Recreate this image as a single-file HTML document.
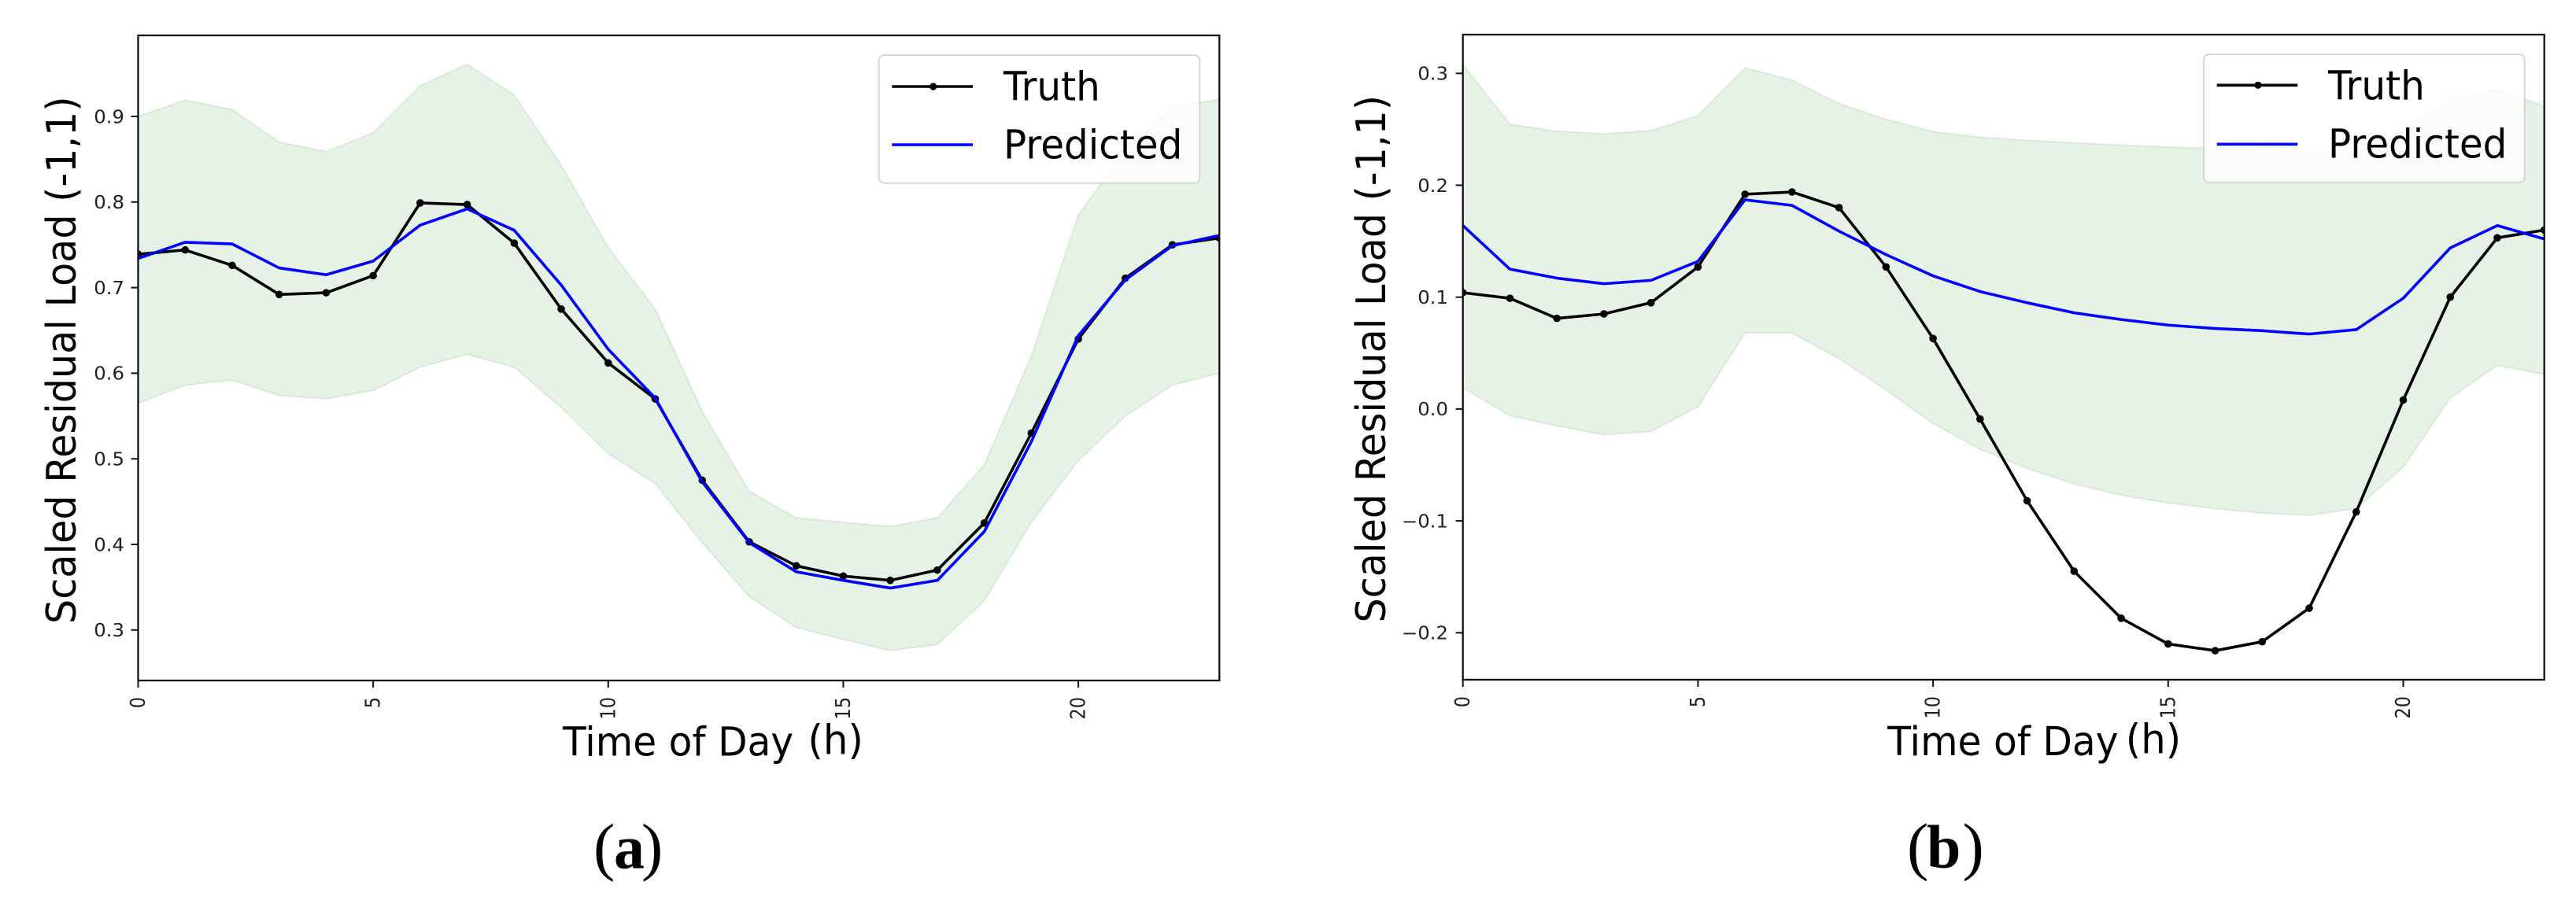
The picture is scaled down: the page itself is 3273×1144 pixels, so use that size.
<!DOCTYPE html>
<html lang="en">
<head>
<meta charset="utf-8">
<title>Scaled Residual Load: Truth vs Predicted</title>
<style>
html,body{margin:0;padding:0;background:#fff;}
svg{display:block;}
text{font-family:"DejaVu Sans","Liberation Sans",sans-serif;}
.cap{font-family:"Liberation Serif",serif;fill:#000;}
</style>
</head>
<body>
<svg id="fig" xmlns="http://www.w3.org/2000/svg" width="3273" height="1144" viewBox="0 0 3273 1144">
  <defs>
    <clipPath id="clipA"><rect x="175.5" y="45" width="1373.8" height="820"/></clipPath>
    <clipPath id="clipB"><rect x="1858.7" y="44" width="1374" height="820"/></clipPath>
  </defs>
  <rect width="3273" height="1144" fill="#fff"/>
  <g id="panelA"></g>
  <g id="panelB"></g>

  <!-- panel a static labels -->
  <text font-size="52" fill="#000" transform="translate(96,793) rotate(-90) scale(0.946,1)">Scaled Residual Load (-1,1)</text>
  <text font-size="51" fill="#000" transform="translate(715,960.7) scale(0.955,1)">Time of Day</text>
  <text font-size="52" fill="#000" transform="translate(1026.4,958.3) scale(0.96,1)">(h)</text>
  <g>
    <rect x="1116.7" y="70" width="407.6" height="162.7" rx="7" ry="7" fill="#fff" fill-opacity="0.8" stroke="#ccc" stroke-opacity="0.8" stroke-width="2"/>
    <line x1="1133.3" y1="110" x2="1236" y2="110" stroke="#000" stroke-width="3.6"/>
    <circle cx="1185.7" cy="110" r="4.6" fill="#000"/>
    <line x1="1133.3" y1="184" x2="1236" y2="184" stroke="#0000ff" stroke-width="3.6"/>
    <text font-size="51" fill="#000" transform="translate(1275,127.3) scale(0.95,1)">Truth</text>
    <text font-size="51" fill="#000" transform="translate(1275,201.3) scale(0.95,1)">Predicted</text>
  </g>
  <g>
    <text class="cap" font-size="82" x="754" y="1103.5">(</text>
    <text class="cap" font-size="78" font-weight="700" x="780" y="1103.5">a</text>
    <text class="cap" font-size="82" x="815" y="1103.5">)</text>
  </g>

  <!-- panel b static labels -->
  <text font-size="52" fill="#000" transform="translate(1760,791.5) rotate(-90) scale(0.946,1)">Scaled Residual Load (-1,1)</text>
  <text font-size="51" fill="#000" transform="translate(2398.3,960) scale(0.955,1)">Time of Day</text>
  <text font-size="52" fill="#000" transform="translate(2700.7,957.3) scale(0.96,1)">(h)</text>
  <g>
    <rect x="2800" y="69" width="407.7" height="162.7" rx="7" ry="7" fill="#fff" fill-opacity="0.8" stroke="#ccc" stroke-opacity="0.8" stroke-width="2"/>
    <line x1="2816.7" y1="108.3" x2="2919.3" y2="108.3" stroke="#000" stroke-width="3.6"/>
    <circle cx="2869" cy="108.3" r="4.6" fill="#000"/>
    <line x1="2816.7" y1="183.3" x2="2919.3" y2="183.3" stroke="#0000ff" stroke-width="3.6"/>
    <text font-size="51" fill="#000" transform="translate(2958,126.7) scale(0.95,1)">Truth</text>
    <text font-size="51" fill="#000" transform="translate(2958,200.7) scale(0.95,1)">Predicted</text>
  </g>
  <g>
    <text class="cap" font-size="82" x="2423" y="1103">(</text>
    <text class="cap" font-size="78" font-weight="700" x="2448" y="1103">b</text>
    <text class="cap" font-size="82" x="2493.5" y="1103">)</text>
  </g>
</svg>
<script>
const hours = [0,1,2,3,4,5,6,7,8,9,10,11,12,13,14,15,16,17,18,19,20,21,22,23];
const xTickValues = [0,5,10,15,20];

const truthA = [0.739,0.744,0.726,0.692,0.694,0.714,0.799,0.797,0.752,0.675,0.612,0.570,0.475,0.403,0.375,0.363,0.358,0.370,0.425,0.530,0.640,0.711,0.750,0.758];
const predictedA = [0.734,0.753,0.751,0.723,0.715,0.731,0.773,0.792,0.767,0.703,0.628,0.571,0.473,0.402,0.368,0.358,0.349,0.358,0.415,0.520,0.644,0.709,0.749,0.761];
const upperA = [0.900,0.919,0.908,0.870,0.859,0.881,0.936,0.961,0.925,0.843,0.747,0.675,0.555,0.462,0.431,0.426,0.421,0.431,0.493,0.620,0.785,0.860,0.911,0.920];
const lowerA = [0.565,0.586,0.592,0.574,0.570,0.580,0.607,0.622,0.607,0.560,0.506,0.471,0.402,0.339,0.303,0.289,0.276,0.283,0.334,0.426,0.498,0.550,0.586,0.600];
const yTickValuesA = [0.3,0.4,0.5,0.6,0.7,0.8,0.9];
const yTickLabelsA = ["0.3","0.4","0.5","0.6","0.7","0.8","0.9"];

const truthB = [0.104,0.099,0.081,0.085,0.095,0.127,0.192,0.194,0.180,0.127,0.063,-0.009,-0.082,-0.145,-0.187,-0.210,-0.216,-0.208,-0.178,-0.092,0.008,0.100,0.153,0.160];
const predictedB = [0.164,0.125,0.117,0.112,0.115,0.132,0.187,0.182,0.159,0.138,0.119,0.105,0.095,0.086,0.080,0.075,0.072,0.070,0.067,0.071,0.099,0.144,0.164,0.152];
const upperB = [0.308,0.2545,0.2484,0.246,0.2489,0.2624,0.305,0.294,0.273,0.259,0.248,0.243,0.240,0.238,0.236,0.234,0.233,0.231,0.229,0.2285,0.250,0.2777,0.2854,0.2707];
const lowerB = [0.019,-0.006,-0.015,-0.023,-0.020,0.002,0.068,0.068,0.045,0.017,-0.013,-0.036,-0.053,-0.067,-0.077,-0.084,-0.089,-0.093,-0.095,-0.089,-0.052,0.010,0.039,0.031];
const yTickValuesB = [-0.2,-0.1,0.0,0.1,0.2,0.3];
const yTickLabelsB = ["\u22120.2","\u22120.1","0.0","0.1","0.2","0.3"];

const NS = "http://www.w3.org/2000/svg";

function xScaleA(h){ return 175.5 + h * 59.73; }
function yScaleA(v){ return 148 + (0.9 - v) * 1088; }
function xScaleB(h){ return 1858.7 + h * 59.74; }
function yScaleB(v){ return 93.3 + (0.3 - v) * 1422; }

function pathFrom(xs, ys, xf, yf){
  return xs.map(function(h,i){ return (i ? "L" : "M") + xf(h).toFixed(2) + " " + yf(ys[i]).toFixed(2); }).join(" ");
}

function drawPanel(root, id, clipId, xf, yf, box, truth, predicted, upper, lower, yTicks, yLabels, yLabelRight){
  const plot = document.createElementNS(NS, "g");
  plot.setAttribute("clip-path", "url(#" + clipId + ")");
  
  
  root.appendChild(plot);

  const band = document.createElementNS(NS, "path");
  const revH = hours.slice().reverse();
  const revL = lower.slice().reverse();
  const upperPath = pathFrom(hours, upper, xf, yf);
  const lowerPath = pathFrom(revH, revL, xf, yf).replace(/^M/, "L");
  band.setAttribute("d", upperPath + " " + lowerPath + " Z");
  band.setAttribute("fill", "#008000");
  band.setAttribute("fill-opacity", "0.1");
  band.setAttribute("stroke", "#008000");
  band.setAttribute("stroke-opacity", "0.1");
  band.setAttribute("stroke-width", "2");
  
  
  plot.appendChild(band);

  const tLine = document.createElementNS(NS, "path");
  tLine.setAttribute("d", pathFrom(hours, truth, xf, yf));
  tLine.setAttribute("fill", "none");
  tLine.setAttribute("stroke", "#000");
  tLine.setAttribute("stroke-width", "3.6");
  tLine.setAttribute("stroke-linejoin", "round");
  
  
  plot.appendChild(tLine);

  hours.forEach(function(h, i){
    const c = document.createElementNS(NS, "circle");
    c.setAttribute("cx", xf(h).toFixed(2));
    c.setAttribute("cy", yf(truth[i]).toFixed(2));
    c.setAttribute("r", "4.8");
    c.setAttribute("fill", "#000");
    
    
    plot.appendChild(c);
  });

  const pLine = document.createElementNS(NS, "path");
  pLine.setAttribute("d", pathFrom(hours, predicted, xf, yf));
  pLine.setAttribute("fill", "none");
  pLine.setAttribute("stroke", "#0000ff");
  pLine.setAttribute("stroke-width", "3.6");
  pLine.setAttribute("stroke-linejoin", "round");
  
  
  plot.appendChild(pLine);

  const frame = document.createElementNS(NS, "rect");
  frame.setAttribute("x", box.x);
  frame.setAttribute("y", box.y);
  frame.setAttribute("width", box.w);
  frame.setAttribute("height", box.h);
  frame.setAttribute("fill", "none");
  frame.setAttribute("stroke", "#111");
  frame.setAttribute("stroke-width", "2.3");
  
  
  root.appendChild(frame);

  xTickValues.forEach(function(h){
    const px = xf(h);
    const tick = document.createElementNS(NS, "line");
    tick.setAttribute("x1", px.toFixed(2));
    tick.setAttribute("x2", px.toFixed(2));
    tick.setAttribute("y1", box.y + box.h);
    tick.setAttribute("y2", box.y + box.h + 9);
    tick.setAttribute("stroke", "#111");
    tick.setAttribute("stroke-width", "2");
    
    
    root.appendChild(tick);

    const label = document.createElementNS(NS, "text");
    label.textContent = String(h);
    label.setAttribute("font-size", "26");
    label.setAttribute("fill", "#222");
    label.setAttribute("text-anchor", "end");
    label.setAttribute("transform", "translate(" + (px + 8.5).toFixed(2) + "," + (box.y + box.h + 21) + ") rotate(-90) scale(0.865,1)");
    
    
    root.appendChild(label);
  });

  yTicks.forEach(function(v, i){
    const py = yf(v);
    const tick = document.createElementNS(NS, "line");
    tick.setAttribute("x1", box.x - 9);
    tick.setAttribute("x2", box.x);
    tick.setAttribute("y1", py.toFixed(2));
    tick.setAttribute("y2", py.toFixed(2));
    tick.setAttribute("stroke", "#111");
    tick.setAttribute("stroke-width", "2");
    
    
    root.appendChild(tick);

    const label = document.createElementNS(NS, "text");
    label.textContent = yLabels[i];
    label.setAttribute("font-size", "23");
    label.setAttribute("fill", "#222");
    label.setAttribute("text-anchor", "end");
    label.setAttribute("transform", "translate(" + yLabelRight + "," + (py + 8.3).toFixed(2) + ") scale(1.06,1)");
    
    
    root.appendChild(label);
  });
}

drawPanel(document.getElementById("panelA"), "a", "clipA", xScaleA, yScaleA,
  {x:175.5, y:45, w:1373.8, h:820}, truthA, predictedA, upperA, lowerA, yTickValuesA, yTickLabelsA, 158);
drawPanel(document.getElementById("panelB"), "b", "clipB", xScaleB, yScaleB,
  {x:1858.7, y:44, w:1374, h:820}, truthB, predictedB, upperB, lowerB, yTickValuesB, yTickLabelsB, 1840);
</script>
</body>
</html>
